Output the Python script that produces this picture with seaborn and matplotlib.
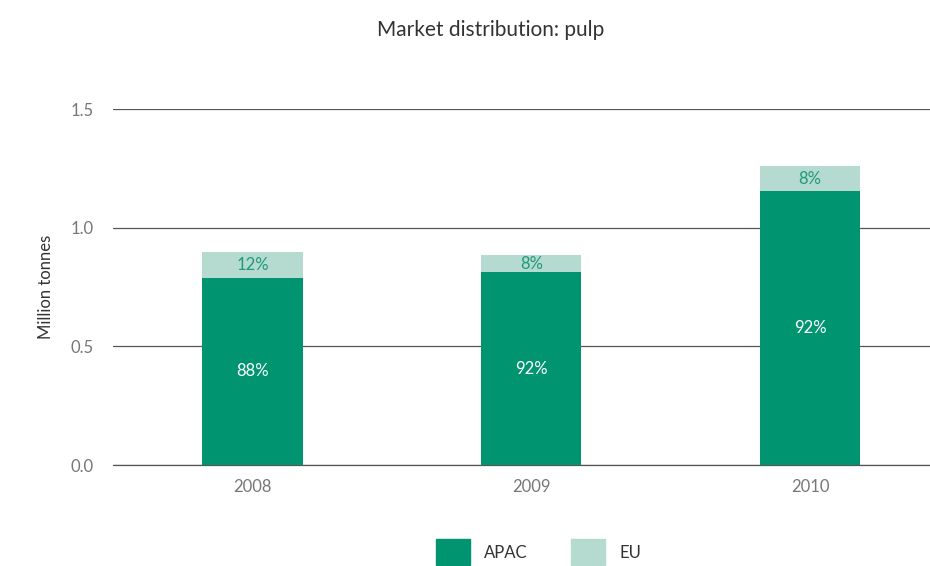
import numpy as np
import pandas as pd
import matplotlib.pyplot as plt
import matplotlib.patches as mpatches
import seaborn as sns

years = ["2008", "2009", "2010"]
apac = [0.789, 0.813, 1.153]
eu = [0.109, 0.072, 0.107]
apac_pct = ["88%", "92%", "92%"]
eu_pct = ["12%", "8%", "8%"]

apac_color = "#009470"
eu_color = "#b5dbd0"

sns.set_style("white")
plt.rcParams['font.family'] = ['Lato', 'DejaVu Sans']

df = pd.DataFrame({"year": years, "APAC": apac, "EU": eu})
df["total"] = df["APAC"] + df["EU"]

fig = plt.figure(figsize=(9.3, 5.66), dpi=100)
ax = fig.add_axes([0.1215, 0.1784, 0.8785, 0.629])

# stacked bars: total in EU colour, APAC drawn over it
sns.barplot(data=df, x="year", y="total", color=eu_color, width=0.36,
            saturation=1, linewidth=0, ax=ax, zorder=3)
sns.barplot(data=df, x="year", y="APAC", color=apac_color, width=0.36,
            saturation=1, linewidth=0, ax=ax, zorder=4)

for i, row in df.iterrows():
    ax.text(i, row["APAC"] / 2, apac_pct[i], ha="center", va="center",
            color="white", fontsize=12, zorder=5)
    ax.text(i, row["APAC"] + row["EU"] / 2, eu_pct[i], ha="center", va="center",
            color="#1f9a78", fontsize=12, zorder=5)

ax.set_ylim(0, 1.5)
ax.set_xlim(-0.5, 2.43)
ax.set_yticks([0, 0.5, 1.0, 1.5])
ax.set_yticklabels(["0.0", "0.5", "1.0", "1.5"])
ax.yaxis.grid(True, color="#555555", linewidth=0.9)
ax.axhline(0, color="#555555", linewidth=0.9, zorder=2, clip_on=False)
ax.set_axisbelow(True)
for s in ax.spines.values():
    s.set_visible(False)
ax.tick_params(axis="both", length=0, labelsize=12, labelcolor="#777777")
ax.tick_params(axis="y", pad=14)
ax.tick_params(axis="x", pad=10)
ax.set_xlabel("")
ax.set_ylabel("Million tonnes", fontsize=12, color="#333333", labelpad=12)

fig.suptitle("Market distribution: pulp", x=0.528, y=0.965, fontsize=15,
             color="#333333")

handles = [mpatches.Patch(color=apac_color, label="APAC"),
           mpatches.Patch(color=eu_color, label="EU")]
fig.legend(handles=handles, loc="lower center", ncol=2, frameon=False,
           bbox_to_anchor=(0.579, -0.025), fontsize=12, handlelength=2.05,
           handleheight=2.0, columnspacing=2.6, handletextpad=0.85,
           labelcolor="#333333")

fig.savefig("out.png", dpi=100)
